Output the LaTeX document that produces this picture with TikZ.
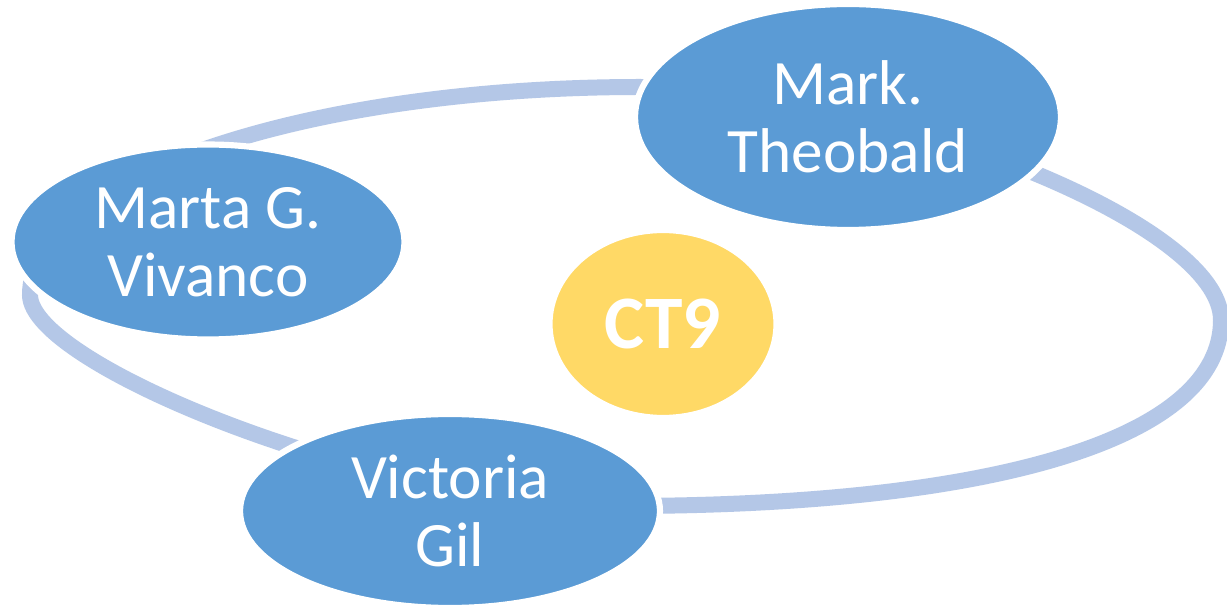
\documentclass[tikz,border=0pt]{standalone}
\usepackage{fontspec}
\setmainfont{Carlito}
\usepackage{xcolor}
\usepackage{tikz}
\usetikzlibrary{shapes.geometric, positioning}

\definecolor{memberblue}{HTML}{5B9BD5}
\definecolor{hubyellow}{HTML}{FFD966}
\definecolor{ringblue}{HTML}{B4C7E7}

\begin{document}
\begin{tikzpicture}[x=0.02cm, y=-0.02cm,
  member/.style={ellipse, fill=memberblue, draw=white, line width=3.5pt, text=white, align=center, inner sep=0pt, font=\fontsize{36}{39}\selectfont},
  hub/.style={ellipse, fill=hubyellow, draw=white, line width=3.5pt, text=white, align=center, inner sep=0pt, font=\fontsize{43}{46}\selectfont\bfseries},
  cycle/.style={draw=ringblue, line width=0.32cm}]

  \useasboundingbox[fill=white] (0,0) rectangle (1227,607);

  % the ring behind the members
  \draw [cycle] (30,295) .. controls (30,365) and (380,506) .. (620,506)
    .. controls (990,506) and (1221,440) .. (1221,320)
    .. controls (1221,220) and (870,87) .. (640,87)
    .. controls (303,87) and (30,180) .. cycle;

  \node [hub, minimum width=4.54cm, minimum height=3.76cm] (ct) at (663,324) {CT9};
  \node [member, minimum width=7.86cm, minimum height=3.9cm] (marta) at (208,242) {Marta G.\\Vivanco};
  \node [member, minimum width=8.52cm, minimum height=4.52cm] (mark) at (848,117) {Mark.\\Theobald};
  \node [member, minimum width=8.4cm, minimum height=3.88cm] (victoria) at (450,511) {Victoria\\Gil};
\end{tikzpicture}
\end{document}
